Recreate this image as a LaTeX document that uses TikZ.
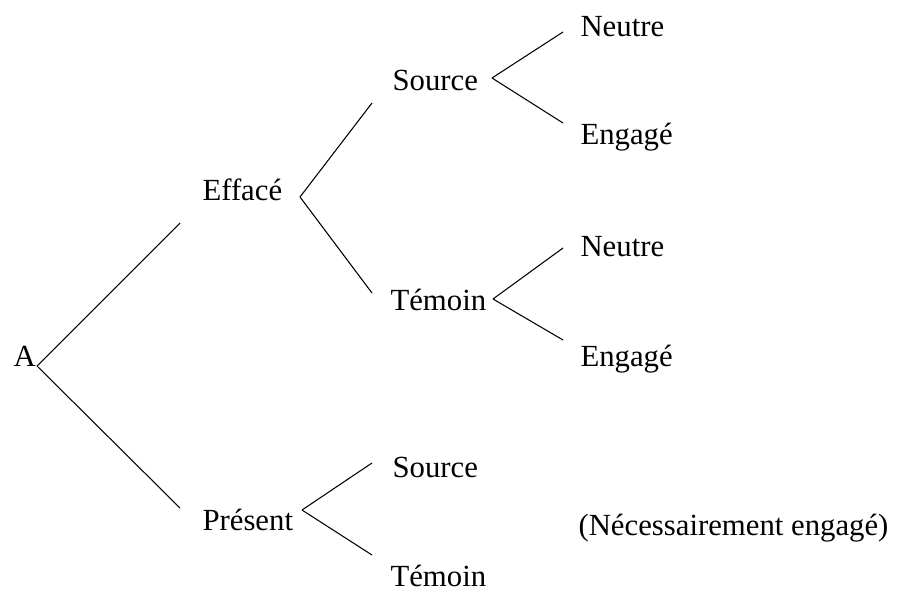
\documentclass[tikz,border=0pt]{standalone}
\usepackage{fontspec}
\setmainfont{Liberation Serif}
\usetikzlibrary{positioning}

\begin{document}
\begin{tikzpicture}[x=0.02cm, y=-0.02cm, line width=0.6pt,
	mot/.style={anchor=base west, inner sep=0pt, font=\fontsize{17.5}{20}\selectfont}]
	\useasboundingbox (0,0) rectangle (901,591);
	
	%Racine
	\node[mot] (A) at (13,366) {A};
	
	%Effacé / Présent
	\node[mot] (effa) at (202,200) {Effacé};
	\node[mot] (pres) at (202,530) {Présent};
	
	%Source / Témoin
	\node[mot] (src1) at (392,91) {Source};
	\node[mot] (tem1) at (390,310) {Témoin};
	\node[mot] (src2) at (392,477) {Source};
	\node[mot] (tem2) at (390,586) {Témoin};
	
	%Neutre / Engagé
	\node[mot] (neu1) at (580,37) {Neutre};
	\node[mot] (eng1) at (580,145) {Engagé};
	\node[mot] (neu2) at (580,256) {Neutre};
	\node[mot] (eng2) at (580,366) {Engagé};
	\node[mot] (nec) at (578,535) {(Nécessairement engagé)};
	
	%Fourches
	\coordinate (kA) at (37,366);
	\coordinate (kEffa) at (300,197);
	\coordinate (kPres) at (302,510);
	\coordinate (kSrc) at (492,78);
	\coordinate (kTem) at (493,299);
	
	%Bouts des branches
	\coordinate (bEffa) at (180,223);
	\coordinate (bPres) at (180,508);
	\coordinate (bSrc1) at (372,103);
	\coordinate (bTem1) at (372,293);
	\coordinate (bSrc2) at (372,463);
	\coordinate (bTem2) at (372,555);
	\coordinate (bNeu1) at (563,32);
	\coordinate (bEng1) at (563,123);
	\coordinate (bNeu2) at (563,248);
	\coordinate (bEng2) at (563,340);
	
	\foreach \k/\b in {kA/bEffa, kA/bPres, kEffa/bSrc1, kEffa/bTem1, kPres/bSrc2, kPres/bTem2,
		kSrc/bNeu1, kSrc/bEng1, kTem/bNeu2, kTem/bEng2}
		\draw (\k) -- (\b);
\end{tikzpicture}
\end{document}
